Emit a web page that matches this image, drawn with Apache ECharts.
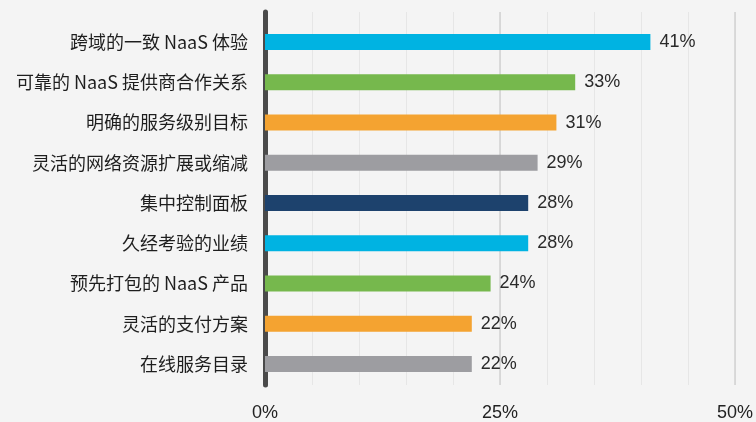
<!DOCTYPE html>
<html>
<head>
<meta charset="utf-8">
<script src="https://cdn.jsdelivr.net/npm/echarts@6/dist/echarts.min.js"></script>
<style>
  html, body { margin: 0; padding: 0; background: #f4f4f4; }
  #chart { width: 756px; height: 422px; }
</style>
</head>
<body>
<div id="chart"></div>
<script>
// 数据
var categories = ['跨域的一致 NaaS 体验', '可靠的 NaaS 提供商合作关系', '明确的服务级别目标', '灵活的网络资源扩展或缩减',
  '集中控制面板', '久经考验的业绩', '预先打包的 NaaS 产品', '灵活的支付方案', '在线服务目录']
var values = [41, 33, 31, 29, 28, 28, 24, 22, 22]
var barColors = ['#00b3e2', '#76b84d', '#f4a331', '#9d9da1', '#1d426d', '#00b3e2', '#76b84d', '#f4a331', '#9d9da1']
var tickLabels = [0, 25, 50]

var numFont = '"Liberation Sans", Arial, sans-serif'
var catFont = '"Noto Sans CJK SC", sans-serif'
var myChart = echarts.init(document.getElementById('chart'))
var option = {
  backgroundColor: '#f4f4f4',
  grid: [
    { left: 265, right: 21, top: 22, bottom: 38 }, // 柱子
    { left: 265, right: 21, top: 12, bottom: 34 } // 背景网格
  ],
  xAxis: [
    { gridIndex: 0, type: 'value', min: 0, max: 50, show: false },
    {
      gridIndex: 1, type: 'value', min: 0, max: 50, interval: 5, position: 'bottom',
      axisLine: { show: false }, axisTick: { show: false }, axisLabel: { show: false },
      splitLine: { show: true, lineStyle: { color: '#e6e6e6', width: 1 } }
    },
    {
      gridIndex: 1, type: 'value', min: 0, max: 50, interval: 25, position: 'bottom',
      axisLine: { show: false }, axisTick: { show: false },
      splitLine: { show: true, lineStyle: { color: '#d2d2d2', width: 1.5 } },
      axisLabel: {
        margin: 19, color: '#222', fontSize: 18, fontFamily: numFont,
        formatter: function (v) {
          return tickLabels.indexOf(v) > -1 ? v + '%' : ''
        }
      }
    }
  ],
  yAxis: [
    {
      gridIndex: 0, type: 'category', inverse: true, data: categories,
      axisLine: { show: false }, axisTick: { show: false }, splitLine: { show: false },
      axisLabel: { margin: 17, color: '#1e1e1e', fontSize: 18, fontFamily: catFont }
    },
    {
      gridIndex: 1, type: 'value', min: 0, max: 1,
      axisLine: { show: true, lineStyle: { color: '#4a4a4a', width: 5 } },
      axisTick: { show: false }, axisLabel: { show: false }, splitLine: { show: false }
    }
  ],
  series: [
    {
      type: 'bar',
      xAxisIndex: 0,
      yAxisIndex: 0,
      barWidth: 16,
      data: values.map(function (v, i) {
        return { value: v, itemStyle: { color: barColors[i] } }
      }),
      label: {
        show: true,
        position: 'right',
        distance: 9,
        color: '#2a2a2a',
        fontSize: 18,
        fontFamily: numFont,
        formatter: '{c}%'
      }
    }
  ]
}
myChart.setOption(option, true)
</script>
</body>
</html>
